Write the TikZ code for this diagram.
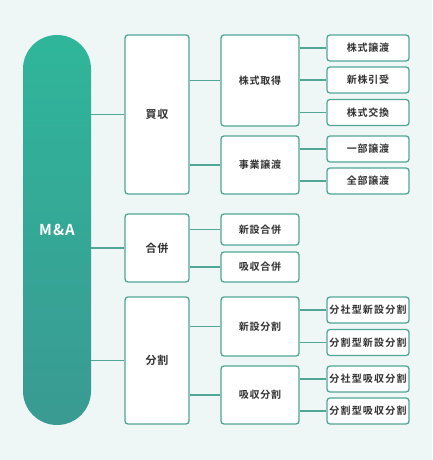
\documentclass[tikz,border=0pt]{standalone}
\usepackage{fontspec}
\setmainfont{Noto Sans CJK JP}[BoldFont={* Bold}]
\newfontfamily\jpc{Noto Sans CJK JP Bold}
\usetikzlibrary{positioning}
\definecolor{bgc}{HTML}{EEF6F6}
\definecolor{linec}{HTML}{52A696}
\definecolor{pilltop}{HTML}{2FB69A}
\definecolor{pillbot}{HTML}{3A9A93}
\definecolor{txt}{HTML}{333333}
% fixed advance per character
\newcommand\spc[2]{\def\spcw{#1}\spcloop#2\relax}
\def\spcloop#1{\ifx#1\relax\else\makebox[\spcw][c]{#1}\expandafter\spcloop\fi}
\tikzset{
  box/.style={draw=linec, line width=1.3pt, fill=white, rounded corners=3pt, inner sep=0pt, text=txt},
  lvone/.style={box, minimum width=64pt, font=\jpc\fontsize{11}{11}\selectfont},
  lvtwo/.style={box, minimum width=78pt, font=\jpc\fontsize{10}{10}\selectfont},
  lvthree/.style={box, minimum width=82pt, minimum height=26pt, font=\jpc\fontsize{10}{10}\selectfont},
  lvsix/.style={box, minimum width=82pt, minimum height=26pt, font=\jpc\fontsize{10}{10}\selectfont},
  conn/.style={draw=linec, line width=1.3pt}
}
\begin{document}
\begin{tikzpicture}[x=1pt,y=1pt]
\useasboundingbox (0,0) rectangle (432,460);
\fill[bgc] (0,0) rectangle (432,460);
% pill
\shade[top color=pilltop, bottom color=pillbot, rounded corners=34pt] (23,35) rectangle (91,425);
\node[inner sep=0pt, minimum width=68pt, minimum height=390pt] (ma) at (57,230) {};
\node[text=white, font=\jpc\fontsize{15}{15}\selectfont] at (ma.center) {M\kern1pt\&\kern1pt A};
% level 1
\node[lvone, minimum height=159pt] (b1) at (157,345.5) {\spc{12pt}{買収}};
\node[lvone, minimum height=68pt] (b2) at (157,212) {\spc{12pt}{合併}};
\node[lvone, minimum height=127pt] (b3) at (157,99.5) {\spc{12pt}{分割}};
% level 2
\node[lvtwo, minimum height=91pt] (c1) at (260,379.5) {\spc{10.8pt}{株式取得}};
\node[lvtwo, minimum height=58pt] (c2) at (260,295) {\spc{10.8pt}{事業譲渡}};
\node[lvtwo, minimum height=31pt] (c3) at (260,230.5) {\spc{10.8pt}{新設合併}};
\node[lvtwo, minimum height=30pt] (c4) at (260,193) {\spc{10.8pt}{吸収合併}};
\node[lvtwo, minimum height=59pt] (c5) at (260,133.5) {\spc{10.8pt}{新設分割}};
\node[lvtwo, minimum height=58pt] (c6) at (260,65) {\spc{10.8pt}{吸収分割}};
% level 3
\node[lvthree] (d1) at (368,412) {\spc{10.8pt}{株式譲渡}};
\node[lvthree] (d2) at (368,380) {\spc{10.8pt}{新株引受}};
\node[lvthree] (d3) at (368,347.5) {\spc{10.8pt}{株式交換}};
\node[lvthree] (d4) at (368,311) {\spc{10.8pt}{一部譲渡}};
\node[lvthree] (d5) at (368,279) {\spc{10.8pt}{全部譲渡}};
\node[lvsix] (d6) at (368,150) {\spc{11.2pt}{分社型新設分割}};
\node[lvsix] (d7) at (368,117.5) {\spc{11.2pt}{分割型新設分割}};
\node[lvsix] (d8) at (368,81) {\spc{11.2pt}{分社型吸収分割}};
\node[lvsix] (d9) at (368,49) {\spc{11.2pt}{分割型吸収分割}};
% connectors
\foreach \t in {b1,b2,b3} \draw[conn] (\t.west -| ma.east) -- (\t.west);
\foreach \s/\t in {b1/c1,b1/c2,b2/c3,b2/c4,b3/c5,b3/c6} \draw[conn] (\t.west -| \s.east) -- (\t.west);
\foreach \s/\t in {c1/d1,c1/d2,c1/d3,c2/d4,c2/d5,c5/d6,c5/d7,c6/d8,c6/d9} \draw[conn] (\t.west -| \s.east) -- (\t.west);
\end{tikzpicture}
\end{document}
